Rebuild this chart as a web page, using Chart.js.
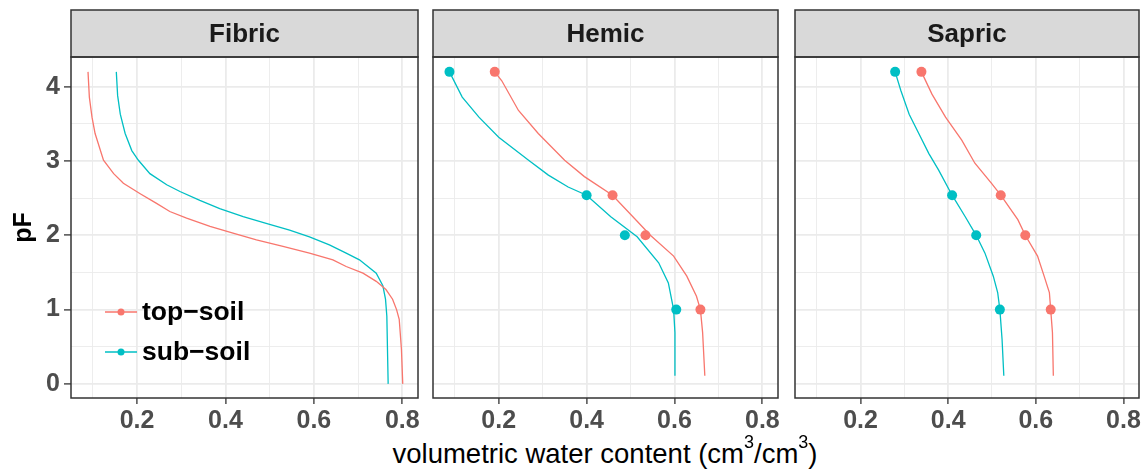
<!DOCTYPE html>
<html><head><meta charset="utf-8">
<script src="https://cdn.jsdelivr.net/npm/chart.js@4.4.0/dist/chart.umd.min.js"></script>
<style>
html,body{margin:0;padding:0;background:#fff;width:1146px;height:475px;overflow:hidden;position:relative;}
canvas{position:absolute;top:0;}
#xt{position:absolute;left:305px;width:600px;text-align:center;top:439px;font:27.5px "Liberation Sans",Arial,sans-serif;color:#000;line-height:30px;white-space:nowrap;}
#xt sup{font-size:18px;position:relative;top:-5px;line-height:0;}
</style></head><body>
<canvas id="c1"></canvas><canvas id="c2"></canvas><canvas id="c3"></canvas>
<div id="xt">volumetric water content (cm<sup>3</sup>/cm<sup>3</sup>)</div>
<script>
// ---------- data ----------
const panelNames = ['Fibric', 'Hemic', 'Sapric'];
const seriesNames = ['top\u2212soil', 'sub\u2212soil'];
const seriesColors = ['#F8766D', '#00BFC4'];

const xMajor = [0.2, 0.4, 0.6, 0.8];
const xMinor = [0.1, 0.3, 0.5, 0.7];
const yMajor = [0, 1, 2, 3, 4];
const yMinor = [0.5, 1.5, 2.5, 3.5];

// Fibric fitted curves
const fibricTopPF    = [4.2, 3.86, 3.59, 3.37, 3.01, 2.83, 2.70, 2.56, 2.43, 2.32, 2.23, 2.12, 2.03, 1.94, 1.85, 1.76, 1.67, 1.58, 1.49, 1.38, 1.27, 1.14, 1.00, 0.87, 0.47, 0];
const fibricTopTheta = [0.089, 0.092, 0.098, 0.105, 0.124, 0.147, 0.169, 0.207, 0.244, 0.274, 0.312, 0.365, 0.417, 0.470, 0.530, 0.590, 0.643, 0.673, 0.711, 0.741, 0.763, 0.778, 0.787, 0.793, 0.798, 0.801];
const fibricSubPF    = [4.2, 3.88, 3.63, 3.37, 3.14, 3.01, 2.83, 2.68, 2.59, 2.47, 2.36, 2.25, 2.16, 2.07, 1.98, 1.87, 1.76, 1.67, 1.49, 1.32, 1.14, 0.91, 0];
const fibricSubTheta = [0.153, 0.156, 0.162, 0.173, 0.188, 0.203, 0.229, 0.267, 0.297, 0.342, 0.387, 0.440, 0.492, 0.545, 0.590, 0.635, 0.673, 0.703, 0.741, 0.756, 0.762, 0.765, 0.768];

// Hemic fitted curves
const hemicTopPF    = [4.2, 4.08, 3.68, 3.37, 3.01, 2.79, 2.54, 2.19, 2.0, 1.72, 1.45, 1.18, 1.0, 0.69, 0.11];
const hemicTopTheta = [0.191, 0.207, 0.245, 0.290, 0.350, 0.395, 0.459, 0.515, 0.545, 0.598, 0.628, 0.650, 0.659, 0.664, 0.669];
const hemicSubPF    = [4.2, 3.86, 3.59, 3.32, 3.01, 2.81, 2.65, 2.54, 2.25, 1.98, 1.63, 1.36, 1.0, 0.69, 0.11];
const hemicSubTheta = [0.088, 0.117, 0.155, 0.200, 0.268, 0.313, 0.358, 0.400, 0.455, 0.515, 0.564, 0.586, 0.598, 0.601, 0.601];

// Sapric fitted curves
const sapricTopPF    = [4.2, 3.9, 3.59, 3.28, 2.97, 2.70, 2.54, 2.21, 2.0, 1.72, 1.45, 1.23, 1.0, 0.69, 0.11];
const sapricTopTheta = [0.339, 0.363, 0.394, 0.431, 0.461, 0.499, 0.520, 0.559, 0.576, 0.604, 0.619, 0.631, 0.634, 0.638, 0.640];
const sapricSubPF    = [4.2, 3.95, 3.63, 3.37, 3.10, 2.88, 2.54, 2.25, 2.0, 1.76, 1.45, 1.23, 1.0, 0.6, 0.11];
const sapricSubTheta = [0.279, 0.292, 0.311, 0.333, 0.356, 0.378, 0.409, 0.439, 0.464, 0.484, 0.503, 0.513, 0.518, 0.523, 0.527];

// measured points (pF levels)
const obsPF = [4.2, 2.54, 2.0, 1.0];
const hemicTopObs  = [0.191, 0.459, 0.534, 0.659];
const hemicSubObs  = [0.088, 0.400, 0.487, 0.604];
const sapricTopObs = [0.339, 0.520, 0.576, 0.634];
const sapricSubObs = [0.279, 0.409, 0.464, 0.518];

// ---------- helpers ----------
const FONT = '"Liberation Sans", Arial, sans-serif';
const XMIN = 0.0505, XMAX = 0.8355, YMIN = -0.19, YMAX = 4.40;
const pts = (pf, th) => pf.map((p, i) => ({x: th[i], y: p}));
const near = (v, arr) => arr.some(a => Math.abs(a - v) < 1e-6);

function curve(pf, th, s) {
  return {data: pts(pf, th), showLine: true, pointRadius: 0, borderColor: seriesColors[s],
          borderWidth: 1.3, tension: 0, fill: false};
}
function points(pf, th, s) {
  return {data: pts(pf, th), showLine: false, pointRadius: 5, pointBorderWidth: 0,
          pointBackgroundColor: seriesColors[s], pointBorderColor: seriesColors[s]};
}

const decor = {
  id: 'decor',
  afterDraw(chart, args, opts) {
    const {ctx, chartArea: a} = chart;
    ctx.save();
    // strip
    ctx.fillStyle = '#D9D9D9';
    ctx.fillRect(a.left, 10, a.right - a.left, a.top - 10);
    ctx.strokeStyle = '#333333';
    ctx.lineWidth = 1.5;
    ctx.strokeRect(a.left, 10, a.right - a.left, a.top - 10);
    ctx.fillStyle = '#1A1A1A';
    ctx.font = 'bold 26px ' + FONT;
    ctx.textAlign = 'center';
    ctx.textBaseline = 'middle';
    ctx.fillText(opts.label, (a.left + a.right) / 2, (10 + a.top) / 2 + 1);
    // panel border
    ctx.strokeRect(a.left, a.top, a.right - a.left, a.bottom - a.top);
    // legend
    if (opts.legend) {
      const rows = [312, 352];
      rows.forEach((y, i) => {
        ctx.strokeStyle = seriesColors[i];
        ctx.lineWidth = 1.5;
        ctx.beginPath(); ctx.moveTo(105, y); ctx.lineTo(137, y); ctx.stroke();
        ctx.fillStyle = seriesColors[i];
        ctx.beginPath(); ctx.arc(121, y, 3.5, 0, Math.PI * 2); ctx.fill();
        ctx.fillStyle = '#000';
        ctx.font = 'bold 26.5px ' + FONT;
        ctx.textAlign = 'left';
        ctx.textBaseline = 'middle';
        ctx.fillText(seriesNames[i], 142, y + 1);
      });
    }
    ctx.restore();
  }
};

function makeChart(id, idx, datasets, cfg) {
  const cv = document.getElementById(id);
  cv.width = cfg.width; cv.height = 438;
  cv.style.left = cfg.left + 'px';
  cv.style.width = cfg.width + 'px'; cv.style.height = '438px';
  const showY = idx === 0;
  return new Chart(cv, {
    type: 'scatter',
    data: {datasets},
    plugins: [decor],
    options: {
      responsive: false, animation: false, devicePixelRatio: 1,
      layout: {padding: {left: cfg.padL, right: cfg.padR, top: 57, bottom: 0}},
      plugins: {legend: {display: false}, tooltip: {enabled: false},
                decor: {label: panelNames[idx], legend: showY}},
      scales: {
        x: {
          type: 'linear', min: XMIN, max: XMAX,
          afterBuildTicks: s => { s.ticks = [...xMinor, ...xMajor].sort((a, b) => a - b).map(v => ({value: v})); },
          afterFit: s => { s.height = 40; },
          ticks: {autoSkip: false, maxRotation: 0, minRotation: 0, padding: 2,
                  font: {family: FONT, size: 25, weight: 'bold'}, color: '#4D4D4D',
                  callback: v => near(v, xMajor) ? v.toFixed(1) : ''},
          grid: {color: '#EBEBEB', lineWidth: c => near(c.tick.value, xMajor) ? 1.8 : 0.9,
                 drawTicks: true, tickLength: 6, tickWidth: 1.3,
                 tickColor: c => near(c.tick.value, xMajor) ? '#333333' : 'rgba(0,0,0,0)'},
          border: {display: false}
        },
        y: {
          type: 'linear', min: YMIN, max: YMAX,
          afterBuildTicks: s => { s.ticks = [...yMajor, ...yMinor].sort((a, b) => a - b).map(v => ({value: v})); },
          afterFit: s => { s.width = cfg.yw; },
          title: {display: showY, text: 'pF', color: '#000', font: {family: FONT, size: 25, weight: 'bold'}, padding: {top: 9, bottom: 0}},
          ticks: {display: showY, autoSkip: false, padding: 4,
                  font: {family: FONT, size: 25, weight: 'bold'}, color: '#4D4D4D',
                  callback: v => near(v, yMajor) ? String(v) : ''},
          grid: {color: '#EBEBEB', lineWidth: c => near(c.tick.value, yMajor) ? 1.8 : 0.9,
                 drawTicks: showY, tickLength: 7, tickWidth: 1.3,
                 tickColor: c => near(c.tick.value, yMajor) ? '#333333' : 'rgba(0,0,0,0)'},
          border: {display: false}
        }
      }
    }
  });
}

makeChart('c1', 0, [
  curve(fibricTopPF, fibricTopTheta, 0),
  curve(fibricSubPF, fibricSubTheta, 1)
], {left: 0, width: 428, yw: 71, padL: 0, padR: 10});

makeChart('c2', 1, [
  curve(hemicTopPF, hemicTopTheta, 0),
  curve(hemicSubPF, hemicSubTheta, 1),
  points(obsPF, hemicTopObs, 0),
  points(obsPF, hemicSubObs, 1)
], {left: 428, width: 358, yw: 0, padL: 2, padR: 8});

makeChart('c3', 2, [
  curve(sapricTopPF, sapricTopTheta, 0),
  curve(sapricSubPF, sapricSubTheta, 1),
  points(obsPF, sapricTopObs, 0),
  points(obsPF, sapricSubObs, 1)
], {left: 790, width: 356, yw: 0, padL: 2, padR: 7});
</script>
</body></html>
